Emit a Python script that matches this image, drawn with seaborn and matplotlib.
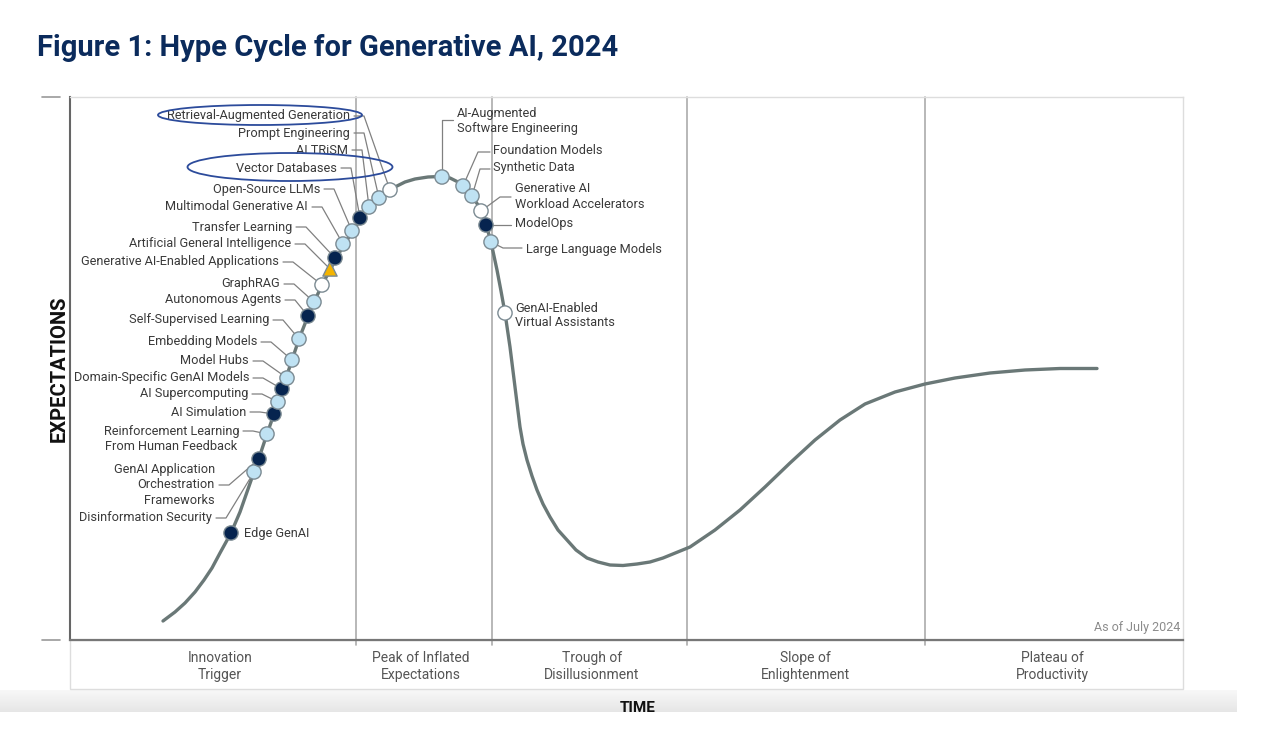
import matplotlib
matplotlib.use("Agg")
import matplotlib.pyplot as plt
from matplotlib.patches import Ellipse, Rectangle
import numpy as np
import pandas as pd
import seaborn as sns

## Curve of the hype cycle (time, expectations)
curve_time = [93, 105, 115, 125, 134, 142, 150, 161, 170, 177, 184, 191, 197, 204,
              210, 216, 222, 229, 238, 245, 252, 260, 268, 277, 286, 295, 305, 315,
              325, 335, 345, 358, 370, 380, 388, 395, 402, 408, 413, 417, 421, 424,
              427, 431, 435, 440, 445, 450, 453, 457, 462, 467, 473, 480, 488, 497,
              506, 517, 528, 540, 553, 567, 580, 593, 620, 645, 670, 695, 720, 745,
              770, 795, 825, 855, 885, 920, 955, 990, 1027]
curve_expect = [19, 28, 37, 48, 60, 72, 87, 107, 128, 148, 168, 188, 206, 226,
                244, 262, 280, 301, 324, 340, 355, 370, 385, 400, 414, 427, 438, 446,
                453, 458, 461, 463, 463.5, 462, 458, 452, 444, 435, 425, 412, 398, 384,
                370, 349, 327, 293, 253, 213, 196, 180, 164, 150, 136, 123, 110, 100,
                90, 82, 78, 75, 74.5, 76, 78, 82, 93, 110, 130, 153, 177, 200,
                220, 236, 248, 256, 262, 267, 270, 271.5, 271.5]

## Technologies on the curve
tech_names = [
    "Edge GenAI", "Disinformation Security",
    "GenAI Application\nOrchestration\nFrameworks",
    "Reinforcement Learning\nFrom Human Feedback", "AI Simulation",
    "AI Supercomputing", "Domain-Specific GenAI Models", "Model Hubs",
    "Embedding Models", "Self-Supervised Learning", "Autonomous Agents",
    "GraphRAG", "Generative AI-Enabled Applications",
    "Artificial General Intelligence", "Transfer Learning",
    "Multimodal Generative AI", "Open-Source LLMs", "Vector Databases",
    "AI TRiSM", "Prompt Engineering", "Retrieval-Augmented Generation",
    "AI-Augmented\nSoftware Engineering", "Foundation Models", "Synthetic Data",
    "Generative AI\nWorkload Accelerators", "ModelOps", "Large Language Models",
    "GenAI-Enabled\nVirtual Assistants",
]
tech_time = [161, 184, 189, 197, 204, 208, 212, 217, 222, 229, 238, 244, 252,
             260, 265, 273, 282, 290, 299, 309, 320,
             372, 393, 402, 411, 416, 421, 435]
tech_expect = [107, 168, 181, 206, 226, 238, 251, 262, 280, 301, 324, 338, 355,
               371, 382, 396, 409, 422, 433, 442, 450,
               463, 454, 444, 429, 415, 398, 327]
years_to_plateau = ["5-10", "2-5", "5-10", "2-5", "5-10", "2-5", "5-10", "2-5",
                    "2-5", "2-5", "5-10", "2-5", "<2", ">10", "5-10", "2-5",
                    "2-5", "5-10", "2-5", "2-5", "<2",
                    "2-5", "2-5", "2-5", "<2", "5-10", "2-5", "<2"]

phase_names = ["Innovation\nTrigger", "Peak of Inflated\nExpectations",
               "Trough of\nDisillusionment", "Slope of\nEnlightenment",
               "Plateau of\nProductivity"]
phase_centers = [150, 351, 522, 735, 982]
phase_bounds = [286, 422, 617, 855]

# label layout: text anchor for labels left of the curve
left_label_pos = {
    "Retrieval-Augmented Generation": (280, 524),
    "Prompt Engineering": (280, 507),
    "AI TRiSM": (278, 490),
    "Vector Databases": (267, 472),
    "Open-Source LLMs": (250, 451),
    "Multimodal Generative AI": (238, 433),
    "Transfer Learning": (222, 413),
    "Artificial General Intelligence": (221, 396),
    "Generative AI-Enabled Applications": (209, 378),
    "GraphRAG": (210, 356),
    "Autonomous Agents": (211, 340),
    "Self-Supervised Learning": (199, 320),
    "Embedding Models": (187, 298),
    "Model Hubs": (179, 279),
    "Domain-Specific GenAI Models": (179, 262),
    "AI Supercomputing": (178, 246),
    "AI Simulation": (176, 228),
    "Reinforcement Learning\nFrom Human Feedback": (169, 200.5),
    "GenAI Application\nOrchestration\nFrameworks": (145, 155),
    "Disinformation Security": (142, 122),
}
leader_y_override = {
    "Reinforcement Learning\nFrom Human Feedback": 209,
}
# labels right of the curve: text anchor and elbow points of the leader
right_label_pos = {
    "Edge GenAI": ((174, 106), None),
    "AI-Augmented\nSoftware Engineering": ((387, 519), [(372, 520), (383, 520)]),
    "Foundation Models": ((423, 489), [(408, 488), (420, 488)]),
    "Synthetic Data": ((423, 472), [(410, 471), (420, 471)]),
    "Generative AI\nWorkload Accelerators": ((445, 443.5), [(430, 443), (441, 443)]),
    "ModelOps": ((445, 416), [(441, 415)]),
    "Large Language Models": ((456, 391), [(433, 392), (452, 392)]),
    "GenAI-Enabled\nVirtual Assistants": ((445, 324.5), None),
}

curve_df = pd.DataFrame({"time": curve_time, "expectations": curve_expect})
tech_df = pd.DataFrame({"name": tech_names, "time": tech_time,
                        "expectations": tech_expect, "years": years_to_plateau})

sns.set_style("white")
plt.rcParams["font.family"] = ["Roboto", "DejaVu Sans"]

fig = plt.figure(figsize=(12.68, 7.46), dpi=100)
ax = fig.add_axes([70 / 1268, 106 / 746, 1113 / 1268, 543 / 746])

# phase dividers
for b in phase_bounds:
    ax.axvline(b, ymin=-0.01, ymax=1, color="#ababab", lw=1.2, zorder=1, clip_on=False)

sns.lineplot(data=curve_df, x="time", y="expectations", sort=False, estimator=None,
             color="#6a7877", lw=2.4, ax=ax, zorder=2, solid_joinstyle="round",
             solid_capstyle="round")

label_color = "#3a3a3a"
lead_color = "#808080"
fs = 9.2

# leader lines and labels, left side
for name, (tx, ty) in left_label_pos.items():
    row = tech_df[tech_df["name"] == name].iloc[0]
    ly = leader_y_override.get(name, ty)
    ax.plot([tx + 4, tx + 14, row["time"]], [ly, ly, row["expectations"]],
            color=lead_color, lw=0.9, zorder=3)
    align = "center" if "Reinforcement" in name else "right"
    ax.text(tx, ty, name, ha="right", va="center", fontsize=fs, color=label_color,
            multialignment=align)

# right side
for name, ((tx, ty), pts) in right_label_pos.items():
    row = tech_df[tech_df["name"] == name].iloc[0]
    if pts:
        xs = [row["time"]] + [p[0] for p in pts]
        ys = [row["expectations"]] + [p[1] for p in pts]
        ax.plot(xs, ys, color=lead_color, lw=0.9, zorder=3)
    ax.text(tx, ty, name, ha="left", va="center", fontsize=fs, color=label_color)

palette = {"<2": "#ffffff", "2-5": "#bfe2f3", "5-10": "#06244f", ">10": "#f4b400"}
markers = {"<2": "o", "2-5": "o", "5-10": "o", ">10": "^"}
sns.scatterplot(data=tech_df, x="time", y="expectations", hue="years", style="years",
                palette=palette, markers=markers, s=105, edgecolor="#7b8a92",
                linewidth=1.0, legend=False, ax=ax, zorder=5)

# highlight ellipses
ax.add_patch(Ellipse((190, 525), 204, 20, fill=False, edgecolor="#2c4b9b", lw=1.3, zorder=6))
ax.add_patch(Ellipse((220, 473), 205, 28, fill=False, edgecolor="#2c4b9b", lw=1.3, zorder=6))

ax.text(1110, 12, "As of July 2024", ha="right", va="center", fontsize=9, color="#8c8c8c")

ax.set_xlim(0, 1113)
ax.set_ylim(0, 543)
ax.set_xticks(phase_centers)
ax.set_xticklabels(phase_names, fontsize=10, color="#555555", linespacing=1.25)
ax.tick_params(axis="x", length=0, pad=8)
ax.set_yticks([])
ax.set_xlabel("")
ax.set_ylabel("EXPECTATIONS", fontsize=14.5, fontweight="bold", color="#111111", labelpad=1)

for side in ["top", "right"]:
    ax.spines[side].set_color("#dddddd")
    ax.spines[side].set_linewidth(1)
ax.spines["left"].set_color("#666666")
ax.spines["left"].set_linewidth(1.5)
ax.spines["bottom"].set_color("#777777")
ax.spines["bottom"].set_linewidth(1.6)

# short ticks off the left spine
for yv in [0, 543]:
    ax.plot([-28 / 1113, -10 / 1113], [yv, yv], color="#999999", lw=1.2,
            transform=ax.get_yaxis_transform(), clip_on=False)

# frame round the phase names
ax.add_patch(Rectangle((0, -49 / 543), 1, 49 / 543, transform=ax.transAxes,
                       fill=False, edgecolor="#dddddd", lw=1, clip_on=False, zorder=0))

# grey strip under the chart
gax = fig.add_axes([0, 34 / 746, 1237 / 1268, 22 / 746], zorder=-1)
grad = np.linspace(0, 1, 50).reshape(-1, 1)
gax.imshow(grad, aspect="auto", cmap=matplotlib.colors.LinearSegmentedColormap.from_list(
    "g", ["#f8f8f8", "#e6e6e6"]))
gax.axis("off")

fig.text(638 / 1268, 38 / 746, "TIME", ha="center", va="center", fontsize=11,
         fontweight="bold", color="#111111")
fig.patches.append(Rectangle((0, 0), 1, 34 / 746, transform=fig.transFigure,
                             facecolor="white", edgecolor="none", zorder=5))

fig.text(37 / 1268, 698 / 746, "Figure 1: Hype Cycle for Generative AI, 2024",
         ha="left", va="center", fontsize=21, fontweight="bold", color="#0b2b5c")

fig.savefig("out.png", dpi=100)
